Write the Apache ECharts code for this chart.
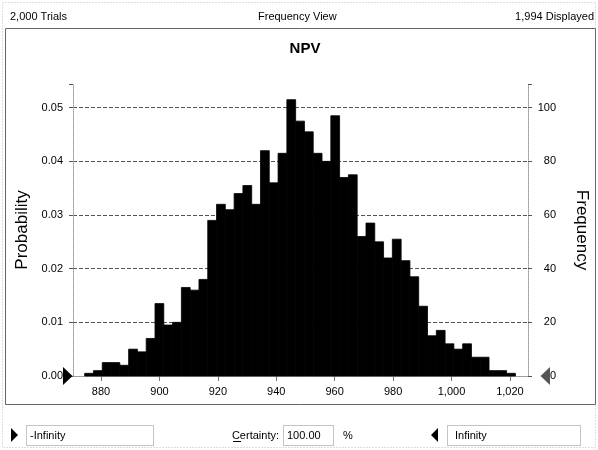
<!DOCTYPE html>
<html><head><meta charset="utf-8">
<script src="https://cdn.jsdelivr.net/npm/echarts@6/dist/echarts.min.js"></script>
<style>html,body{margin:0;padding:0;background:#fff}#c{width:598px;height:450px}</style>
</head><body><div id="c"></div>
<script>
// ---- data ----
const trials = 2000;
const displayed = 1994;
const chartTitle = 'NPV';
const binStart = 874.4;
const binWidth = 3.01;
const frequency = [1,2,5,5,4,10,9,14,27,19,20,33,32,36,58,64,62,68,71,64,84,72,83,103,95,91,83,80,97,74,75,52,57,50,44,51,43,37,26,15,17,12,10,12,7,7,2,2,1];
const xTicks = [880,900,920,940,960,980,1000,1020];
const probTicks = [0,0.01,0.02,0.03,0.04,0.05];
const freqTicks = [0,20,40,60,80,100];
const certainty = '100.00';
const lowerBound = '-Infinity';
const upperBound = 'Infinity';

// ---- chart ----
const FONT = "'Liberation Sans', Arial, sans-serif";
const xMin = 870.4, xMax = 1026.2;
const probMax = 0.05442, freqMax = probMax * trials;

const bins = frequency.map((f, i) => [binStart + i * binWidth, binStart + (i + 1) * binWidth, f]);

const fmtNum = v => v.toLocaleString('en-US');
const isTick = (v, arr) => arr.some(t => Math.abs(t - v) < 1e-9);

const chart = echarts.init(document.getElementById('c'), null, {renderer: 'canvas'});
const gridDash = {color: '#555', type: [4, 2], width: 1};
const border = {color: '#999', type: 'dotted', width: 1};

chart.setOption({
  animation: false,
  backgroundColor: '#fff',
  textStyle: {fontFamily: FONT},
  title: {
    text: chartTitle, left: 300, top: 36, textAlign: 'center',
    textStyle: {fontFamily: FONT, fontSize: 15, fontWeight: 'bold', color: '#000'}
  },
  grid: {left: 73, right: 59.5, top: 84, bottom: 74, containLabel: false},
  xAxis: [{
    type: 'value', min: xMin, max: xMax, position: 'bottom',
    axisLine: {show: true, lineStyle: border},
    axisTick: {show: true, customValues: xTicks, length: 5, lineStyle: {color: '#777'}},
    axisLabel: {customValues: xTicks, formatter: v => fmtNum(v), color: '#000', fontSize: 11, margin: 10, fontFamily: FONT},
    splitLine: {show: false}
  }, {
    type: 'value', min: xMin, max: xMax, position: 'top',
    axisLine: {show: true, lineStyle: border},
    axisTick: {show: false}, axisLabel: {show: false}, splitLine: {show: false}
  }],
  yAxis: [{
    type: 'value', min: 0, max: probMax, interval: 0.01, position: 'left',
    name: 'Probability', nameLocation: 'middle', nameGap: 35,
    nameTextStyle: {fontFamily: FONT, fontSize: 17, color: '#000'},
    axisLine: {show: true, lineStyle: border},
    axisTick: {show: true, length: 6, lineStyle: gridDash},
    axisLabel: {formatter: v => isTick(v, probTicks) ? v.toFixed(2) : '', color: '#000', fontSize: 11, margin: 10, fontFamily: FONT},
    splitLine: {show: true, showMaxLine: false, showMinLine: false, lineStyle: gridDash}
  }, {
    type: 'value', min: 0, max: freqMax, interval: 20, position: 'right',
    name: 'Frequency', nameLocation: 'middle', nameGap: 45, nameRotate: -90,
    nameTextStyle: {fontFamily: FONT, fontSize: 17, color: '#000'},
    axisLine: {show: true, lineStyle: border},
    axisTick: {show: true, length: 6, lineStyle: gridDash},
    axisLabel: {formatter: v => isTick(v, freqTicks) ? String(v) : '', color: '#000', fontSize: 11, margin: 28, align: 'right', fontFamily: FONT},
    splitLine: {show: false}
  }],
  series: [{
    type: 'custom',
    xAxisIndex: 0, yAxisIndex: 1,
    data: bins,
    encode: {x: [0, 1], y: 2},
    renderItem: (params, api) => {
      const p0 = api.coord([api.value(0), api.value(2)]);
      const p1 = api.coord([api.value(1), 0]);
      return {type: 'rect', shape: {x: p0[0], y: p0[1], width: p1[0] - p0[0], height: p1[1] - p0[1]},
              style: {fill: '#000', stroke: '#000', lineWidth: 0.8}};
    },
    z: 3
  }],
  graphic: [
    // outer frame
    {type: 'rect', shape: {x: 2.5, y: 2.5, width: 593, height: 445}, style: {fill: 'none', stroke: '#bbb', lineDash: [1, 2]}, z: 0, silent: true},
    // panel frame
    {type: 'rect', shape: {x: 5.5, y: 28.5, width: 590, height: 376}, style: {fill: 'none', stroke: '#666', lineWidth: 1}, z: 0, silent: true},
    // header
    {type: 'text', left: 10, top: 11, style: {text: fmtNum(trials) + ' Trials', font: '11px ' + FONT, fill: '#000'}},
    {type: 'text', left: 258, top: 11, style: {text: 'Frequency View', font: '11px ' + FONT, fill: '#000'}},
    {type: 'text', right: 4, top: 11, style: {text: fmtNum(displayed) + ' Displayed', font: '11px ' + FONT, fill: '#000'}},
    // axis end markers
    {type: 'polygon', shape: {points: [[63, 367], [72.5, 376], [63, 385]]}, style: {fill: '#000'}, z: 10},
    {type: 'polygon', shape: {points: [[550, 367], [540.5, 376], [550, 385]]}, style: {fill: '#555'}, z: 10},
    // bottom controls
    {type: 'polygon', shape: {points: [[11, 428], [18, 435], [11, 442]]}, style: {fill: '#000'}},
    {type: 'rect', shape: {x: 26.5, y: 425.5, width: 127, height: 20}, style: {fill: '#fff', stroke: '#888', lineDash: [1, 1]}},
    {type: 'text', left: 30, top: 430, style: {text: lowerBound, font: '11px ' + FONT, fill: '#000'}},
    {type: 'text', x: 279, y: 430, style: {text: 'Certainty:', font: '11px ' + FONT, fill: '#000', align: 'right', verticalAlign: 'top'}},
    {type: 'line', shape: {x1: 233, y1: 441.5, x2: 241, y2: 441.5}, style: {stroke: '#000', lineWidth: 1}},
    {type: 'rect', shape: {x: 283.5, y: 425.5, width: 50, height: 20}, style: {fill: '#fff', stroke: '#888', lineDash: [1, 1]}},
    {type: 'text', left: 287, top: 430, style: {text: certainty, font: '11px ' + FONT, fill: '#000'}},
    {type: 'text', left: 343, top: 430, style: {text: '%', font: '11px ' + FONT, fill: '#000'}},
    {type: 'polygon', shape: {points: [[438, 428], [431, 435], [438, 442]]}, style: {fill: '#000'}},
    {type: 'rect', shape: {x: 447.5, y: 425.5, width: 133, height: 20}, style: {fill: '#fff', stroke: '#888', lineDash: [1, 1]}},
    {type: 'text', left: 455, top: 430, style: {text: upperBound, font: '11px ' + FONT, fill: '#000'}}
  ]
});
</script></body></html>
